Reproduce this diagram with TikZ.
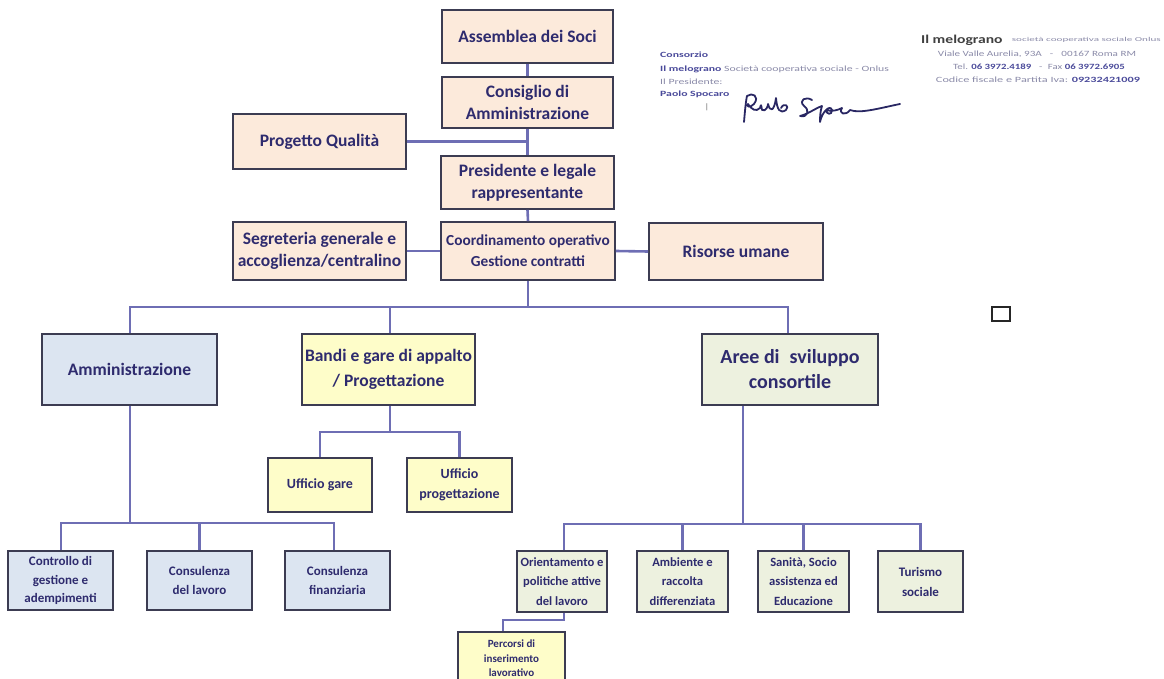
\documentclass[tikz,border=0pt]{standalone}
\usepackage{fontspec}
\setmainfont{Carlito}
\usetikzlibrary{calc}
\definecolor{txt}{HTML}{2E2B6E}
\definecolor{bord}{HTML}{3C3C52}
\definecolor{conn}{HTML}{6E6EB4}
\definecolor{peach}{HTML}{FCEADB}
\definecolor{lblue}{HTML}{DCE5F1}
\definecolor{lyell}{HTML}{FEFDC9}
\definecolor{lgreen}{HTML}{EDF1DF}
\definecolor{hgray}{HTML}{8A8AA8}
\definecolor{hblue}{HTML}{4A4A9A}
\tikzset{
  x=1pt,y=-1pt,
  box/.style={draw=bord,line width=1.7pt,align=center,text=txt,font=\bfseries\fontsize{17.5}{22}\selectfont,inner sep=0pt},
  sbox/.style={box,font=\bfseries\fontsize{13}{18.5}\selectfont},
  rbox/.style={box,font=\bfseries\fontsize{12.6}{19.5}\selectfont},
  wire/.style={draw=conn,line width=2.6pt},
  hdr/.style={anchor=west,inner sep=0pt,font=\fontsize{8}{10}\selectfont,text=hgray}
}
\newcommand{\hx}[2]{\scalebox{#1}[1]{#2}}
\begin{document}
\begin{tikzpicture}
\useasboundingbox (0,0) rectangle (1164,679);
\begin{scope}
\clip (0,0) rectangle (1164,679);
% top column
\node[box,fill=peach,minimum width=171,minimum height=53] (soci) at (527.5,36.5) {Assemblea dei Soci};
\node[box,fill=peach,minimum width=171,minimum height=51] (cda) at (527.5,102.5) {Consiglio di\\Amministrazione};
\node[box,fill=peach,minimum width=173,minimum height=53] (pres) at (527.5,182.5) {Presidente e legale\\rappresentante};
\node[box,fill=peach,minimum width=174,minimum height=58,font=\bfseries\fontsize{15.3}{21}\selectfont] (coord) at (528,251) {Coordinamento operativo\\Gestione contratti};
\node[box,fill=peach,minimum width=173,minimum height=55] (qual) at (319.5,141.5) {Progetto Qualità};
\node[box,fill=peach,minimum width=173,minimum height=58] (segr) at (319.5,251) {Segreteria generale e\\accoglienza/centralino};
\node[box,fill=peach,minimum width=174,minimum height=57] (ris) at (736,251.5) {Risorse umane};
% level 2
\node[box,fill=lblue,minimum width=175,minimum height=71] (amm) at (129.5,369.5) {Amministrazione};
\node[box,fill=lyell,minimum width=173,minimum height=71,font=\bfseries\fontsize{17.5}{25}\selectfont] (bandi) at (388.5,369.5) {Bandi e gare di appalto\\/ Progettazione};
\node[box,fill=lgreen,minimum width=176,minimum height=71,font=\bfseries\fontsize{20}{25}\selectfont] (aree) at (790,369.5) {Aree di\enspace sviluppo\\consortile};
% bandi children
\node[sbox,fill=lyell,minimum width=104,minimum height=54,font=\bfseries\fontsize{14}{20}\selectfont] (ugare) at (320,485) {Ufficio gare};
\node[sbox,fill=lyell,minimum width=105,minimum height=54,font=\bfseries\fontsize{14}{20}\selectfont] (uprog) at (459.5,485) {Ufficio\\progettazione};
% amministrazione children
\node[sbox,fill=lblue,minimum width=105,minimum height=59] (ctrl) at (60.5,580.5) {Controllo di\\gestione e\\adempimenti};
\node[sbox,fill=lblue,minimum width=105,minimum height=59] (clav) at (199.5,580.5) {Consulenza\\del lavoro};
\node[sbox,fill=lblue,minimum width=105,minimum height=59] (cfin) at (337.5,580.5) {Consulenza\\finanziaria};
% aree children
\node[rbox,fill=lgreen,minimum width=90,minimum height=61] (orient) at (562,581.5) {Orientamento e\\politiche attive\\del lavoro};
\node[rbox,fill=lgreen,minimum width=91,minimum height=61] (amb) at (682.5,581.5) {Ambiente e\\raccolta\\differenziata};
\node[rbox,fill=lgreen,minimum width=91,minimum height=61] (san) at (803.5,581.5) {Sanità, Socio\\assistenza ed\\Educazione};
\node[rbox,fill=lgreen,minimum width=85,minimum height=61,font=\bfseries\fontsize{13}{20}\selectfont] (tur) at (920.5,581.5) {Turismo\\sociale};
\node[sbox,fill=lyell,minimum width=107,minimum height=53,font=\bfseries\fontsize{11}{14.5}\selectfont] (perc) at (511.5,658.5) {Percorsi di\\inserimento\\lavorativo};
% connectors
\draw[wire] (soci.south) -- (cda.north);
\draw[wire] (cda.south) -- (pres.north);
\draw[wire] (qual.east) -- (qual.east -| cda.south);
\draw[wire] (pres.south) -- (coord.north);
\draw[wire] (segr.east) -- (coord.west);
\draw[wire] (coord.east) -- (ris.west);
\coordinate (b1) at (528,307);
\draw[wire] (coord.south) -- (b1);
\draw[wire] (amm.north -| 130,0) |- (b1) -| (788,0 |- aree.north);
\draw[wire] (bandi.north -| 390,0) -- (390,307);
\coordinate (b2) at (390,432);
\draw[wire] (bandi.south -| b2) -- (b2);
\draw[wire] (ugare.north) |- (b2) -| (uprog.north);
\coordinate (b3) at (130,523);
\draw[wire] (amm.south -| b3) -- (b3);
\draw[wire] (ctrl.north -| 61,0) |- (b3) -| (cfin.north -| 334,0);
\draw[wire] (clav.north) -- (clav.north |- b3);
\coordinate (b4) at (743,524);
\draw[wire] (aree.south -| b4) -- (b4);
\draw[wire] (orient.north -| 564,0) |- (b4) -| (tur.north);
\draw[wire] (amb.north) -- (amb.north |- b4);
\draw[wire] (san.north) -- (san.north |- b4);
\coordinate (p1) at (564,620);
\coordinate (p2) at (503,620);
\draw[wire] (orient.south -| p1) -- (p1) -- (p2) -- (perc.north -| p2);
\end{scope}
% header left
\node[hdr,text=hblue] (h1) at (660,55) {\hx{1.47}{\textbf{Consorzio}}};
\node[hdr] (h2) at (660,69) {\hx{1.47}{\textcolor{hblue}{\textbf{Il melograno}} Società cooperativa sociale - Onlus}};
\node[hdr] (h3) at (660,82) {\hx{1.47}{Il Presidente:}};
\node[hdr,text=hblue] (h4) at (660,94) {\hx{1.47}{\textbf{Paolo Spocaro}}};
\node[hdr,text=black!70] (h5) at (705,107) {|};
% signature
\draw[txt!90!black,line width=1.8pt,line cap=round,line join=round]
  (744,122) .. controls (745,110) and (746,100) .. (747,96)
  .. controls (752,92) and (760,96) .. (754,104)
  .. controls (750,108) and (746,107) .. (748,104)
  .. controls (752,110) and (756,112) .. (760,108)
  .. controls (761,104) and (761,104) .. (762,110)
  .. controls (766,112) and (768,106) .. (768,104)
  .. controls (770,112) and (774,112) .. (776,98)
  .. controls (777,110) and (780,114) .. (786,110)
  .. controls (790,106) and (784,102) .. (781,108);
\draw[txt!90!black,line width=1.8pt,line cap=round,line join=round]
  (812,100) .. controls (806,96) and (798,100) .. (804,106)
  .. controls (810,110) and (808,118) .. (800,116)
  .. controls (808,114) and (816,108) .. (822,106)
  .. controls (820,112) and (820,118) .. (820,122)
  .. controls (822,112) and (830,104) .. (832,110)
  .. controls (832,116) and (826,114) .. (826,110)
  .. controls (832,112) and (838,110) .. (842,108)
  .. controls (838,114) and (846,116) .. (850,110)
  .. controls (860,114) and (880,108) .. (900,104);
% header right
\node[anchor=west,inner sep=0pt,text=black!75,font=\bfseries\fontsize{12}{14}\selectfont] (r1) at (921,40) {\hx{1.3}{Il melograno}};
\node[anchor=east,inner sep=0pt,text=hgray,font=\fontsize{6}{8}\selectfont] (r1b) at (1161,40) {\hx{1.85}{società cooperativa sociale Onlus}};
\node[inner sep=0pt,text=hgray,font=\fontsize{8}{10}\selectfont] (r2) at (1037,54) {\hx{1.39}{Viale Valle Aurelia, 93A \enspace- \enspace00167 Roma RM}};
\node[inner sep=0pt,text=hgray,font=\fontsize{8}{10}\selectfont] (r3) at (1039,67) {\hx{1.35}{Tel. \textcolor{hblue}{\textbf{06 3972.4189}} \enspace-\enspace Fax \textcolor{hblue}{\textbf{06 3972.6905}}}};
\node[inner sep=0pt,text=hgray,font=\fontsize{8}{10}\selectfont] (r4) at (1038,80) {\hx{1.53}{Codice fiscale e Partita Iva: \textcolor{hblue}{\textbf{09232421009}}}};
% small square
\draw[black!85,line width=2.6pt] (992,307) rectangle (1010,321);
\end{tikzpicture}
\end{document}
